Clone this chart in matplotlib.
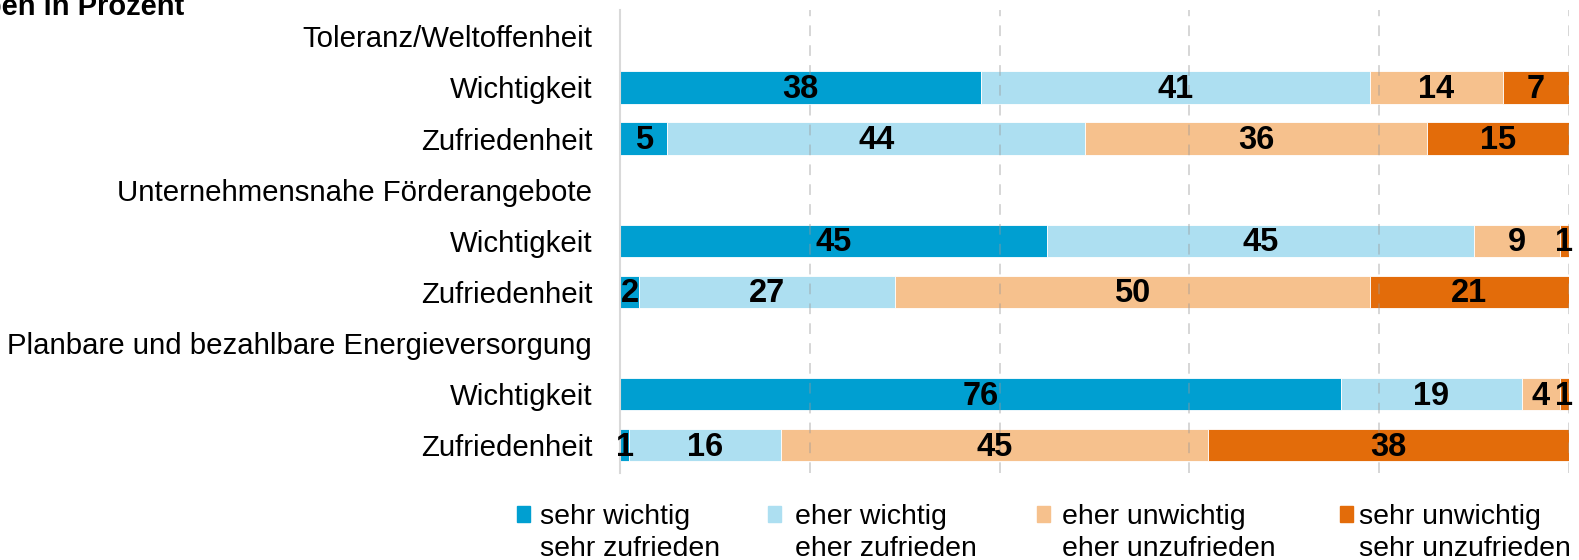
import matplotlib
matplotlib.use('Agg')
import matplotlib.pyplot as plt
from matplotlib.patches import Rectangle
import numpy as np

plt.rcParams['font.family'] = ['Liberation Sans', 'DejaVu Sans']

# ---- data ----
row_labels = ["Toleranz/Weltoffenheit", "Wichtigkeit", "Zufriedenheit",
              "Unternehmensnahe Förderangebote", "Wichtigkeit", "Zufriedenheit",
              "Planbare und bezahlbare Energieversorgung", "Wichtigkeit", "Zufriedenheit"]
sehr = [None, 38, 5, None, 45, 2, None, 76, 1]
eher = [None, 41, 44, None, 45, 27, None, 19, 16]
eher_un = [None, 14, 36, None, 9, 50, None, 4, 45]
sehr_un = [None, 7, 15, None, 1, 21, None, 1, 38]
legend_top = ["sehr wichtig", "eher wichtig", "eher unwichtig", "sehr unwichtig"]
legend_bottom = ["sehr zufrieden", "eher zufrieden", "eher unzufrieden", "sehr unzufrieden"]
title = "Angaben in Prozent"
colors = ['#009FD1', '#ADDFF1', '#F6C18D', '#E36C0A']

W, H = 1579, 560
fig = plt.figure(figsize=(W / 100, H / 100), dpi=100)
ax = fig.add_axes([620 / W, 1 - 473 / H, 949 / W, (473 - 10) / H])

series = [sehr, eher, eher_un, sehr_un]
y = np.arange(len(row_labels))
left = np.zeros(len(row_labels))
for vals, col in zip(series, colors):
    for i, v in enumerate(vals):
        if v is None:
            continue
        ax.barh(y[i], v, left=left[i], height=0.63, color=col,
                edgecolor='white', linewidth=0.6, zorder=2)
        ax.text(left[i] + v / 2, y[i] + 0.04, str(v), ha='center', va='center',
                fontsize=23.5, fontweight='bold', color='black', zorder=4)
        left[i] += v

ax.set_xlim(0, 100)
ax.set_ylim(8.546, -0.515)
ax.set_xticks([20, 40, 60, 80, 100])
ax.xaxis.grid(True, color='#999999', alpha=0.5, linestyle=(0, (7, 6)), linewidth=1.1, zorder=3)
ax.set_axisbelow(False)
ax.tick_params(axis='x', length=0, labelbottom=False)
ax.set_yticks(y)
ax.set_yticklabels(row_labels, fontsize=21.2)
ax.tick_params(axis='y', length=0, pad=20)
for s in ['top', 'right', 'bottom']:
    ax.spines[s].set_visible(False)
ax.spines['left'].set_color('#D9D9D9')
ax.spines['left'].set_linewidth(1.5)

fig.text(184 / W, 1 - 15 / H, title, ha='right', va='baseline',
         fontsize=21, fontweight='bold')

# legend
mk_x = [517, 768, 1037, 1340]
tx_x = [540, 795, 1062, 1359]
for mx, tx, col, t1, t2 in zip(mk_x, tx_x, colors, legend_top, legend_bottom):
    fig.add_artist(Rectangle((mx / W, 1 - 522 / H), 13 / W, 16 / H,
                             transform=fig.transFigure, color=col))
    fig.text(tx / W, 1 - 524 / H, t1, ha='left', va='baseline', fontsize=20.5)
    fig.text(tx / W, 1 - 556 / H, t2, ha='left', va='baseline', fontsize=20.5)

fig.savefig('out.png', dpi=100)
